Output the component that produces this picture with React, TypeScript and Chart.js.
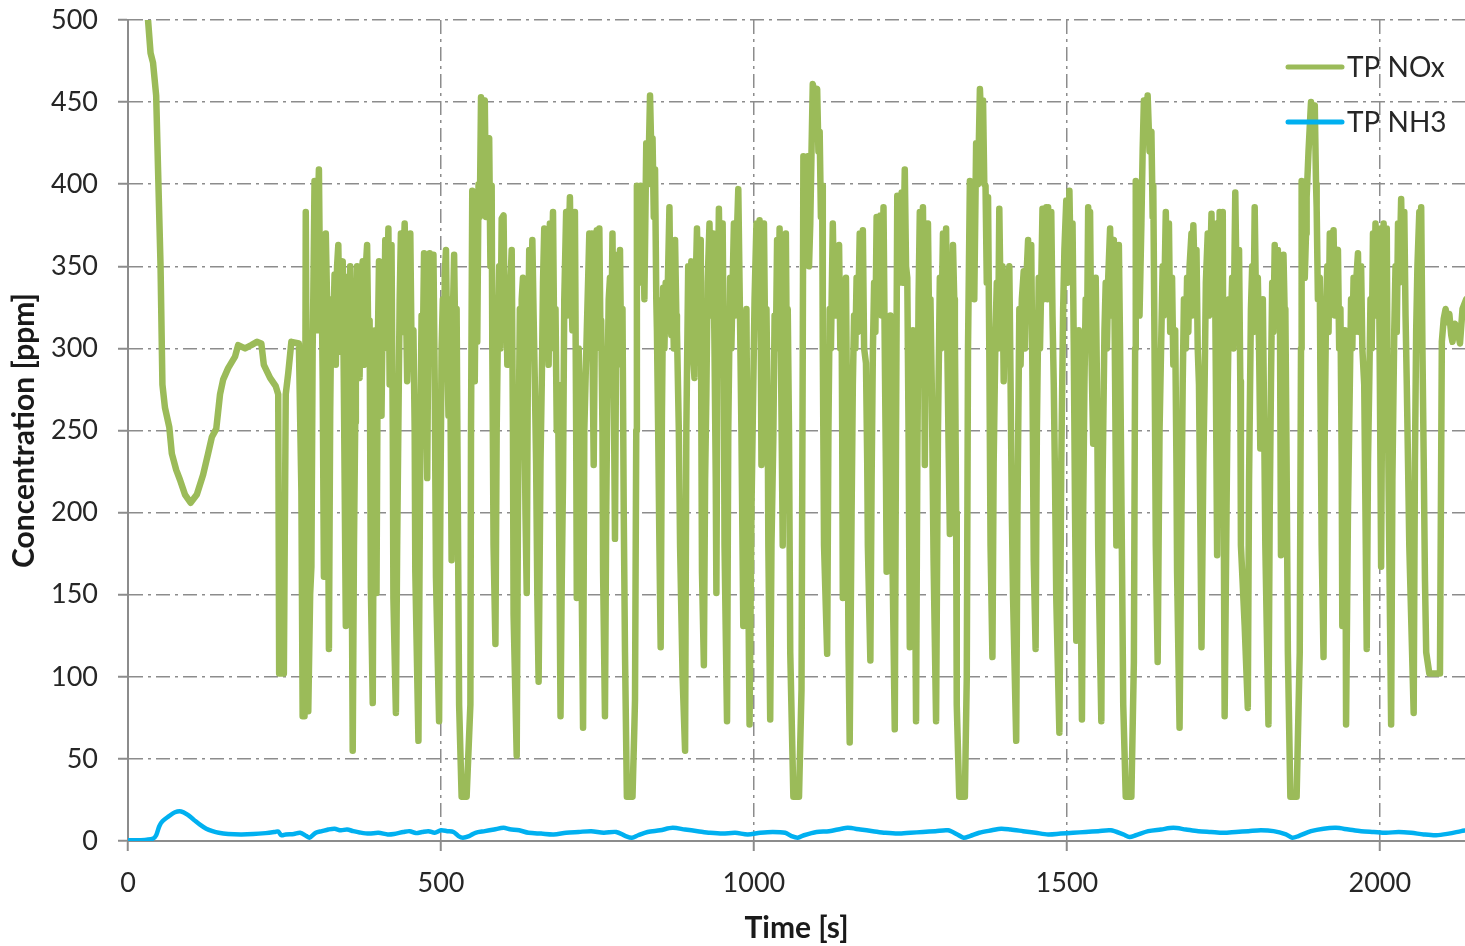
import React, { useEffect, useRef } from 'react';
import { Chart, registerables } from 'chart.js';

Chart.register(...registerables);

// ---------- data (time [s], concentration [ppm]) ----------
const seriesLabels = ['TP NOx', 'TP NH3'];
const xTickValues = [0, 500, 1000, 1500, 2000];
const yTickValues = [0, 50, 100, 150, 200, 250, 300, 350, 400, 450, 500];
const xMax = 2136;
const yMax = 500;

const noxA: [number, number][] = [
  [0, 640], [15, 580], [28, 520], [32, 500], [36, 480], [40, 474], [45, 454], [48, 409], [52, 350], [55, 278],
  [59, 264], [66, 252], [70, 236], [77, 226], [83, 220], [91, 211], [100, 206], [110, 211], [120, 223], [128, 236],
  [134, 246], [141, 251], [147, 272], [152, 281], [160, 288], [171, 295], [176, 302], [187, 300], [197, 302], [206, 304],
  [213, 303], [217, 290], [227, 282], [236, 277], [240, 272], [241.5, 102], [249, 102], [252, 272], [256, 285], [261, 304],
  [273, 303], [277, 213], [279, 76], [282, 76], [284, 383], [288, 79], [291, 150], [293, 167], [295, 300], [296, 330],
  [298, 402], [300, 350], [302, 311], [303, 380], [305, 409], [307, 330], [309, 353], [311, 280], [313, 161], [315, 300],
  [316, 370], [318, 330], [319, 250], [321, 117], [323, 260], [325, 330], [328, 311], [330, 345], [332, 290], [334, 350],
  [336, 363], [338, 310], [339, 298], [341, 340], [343, 353], [345, 270], [348, 131], [350, 300], [352, 344], [353, 300],
  [355, 350], [357, 200], [359, 55],
];

const noxB: [number, number][] = [
  [361, 180], [363, 255], [364, 320], [366, 350], [368, 300], [370, 282], [372, 340], [375, 353], [377, 290], [379, 311],
  [380, 350], [382, 363], [384, 300], [386, 317], [388, 154], [391, 84], [393, 250], [395, 311], [397, 151], [399, 300],
  [401, 353], [403, 290], [405, 259], [407, 330], [409, 300], [411, 366], [413, 320], [416, 373], [418, 278], [420, 340],
  [421, 363], [423, 250], [424, 148], [428, 78], [430, 180], [432, 255], [434, 330], [436, 370], [438, 310], [440, 350],
  [442, 376], [444, 330], [446, 280], [448, 308], [450, 360], [451, 370], [453, 300], [456, 311], [458, 250], [459, 164],
  [464, 61], [466, 180], [467, 246], [469, 320], [471, 300], [473, 358], [475, 300], [478, 221], [480, 320], [482, 358],
  [484, 310], [486, 340], [488, 357], [490, 280], [492, 161], [497, 73], [499, 200], [501, 300], [503, 330], [505, 290],
  [506, 345], [508, 360], [510, 300], [512, 259], [514, 330], [517, 171], [519, 320], [521, 357], [523, 300], [525, 324],
  [527, 200], [529, 83], [533, 27], [541, 27], [547, 83], [548, 250], [550, 396], [552, 330], [554, 280], [556, 373],
  [558, 304], [560, 400], [562, 380], [564, 453], [567, 440], [570, 451], [572, 380], [574, 409], [577, 428], [579, 350],
  [581, 399], [582, 300], [584, 180], [587, 120], [589, 250], [591, 311], [593, 350], [595, 300], [597, 379], [600, 381],
  [602, 310], [604, 343], [606, 290], [609, 324], [611, 340], [613, 360], [615, 250], [616, 138], [621, 52], [623, 200],
  [626, 324], [628, 290], [629, 330], [631, 343], [633, 280], [635, 200], [637, 151], [639, 300], [641, 360], [643, 310],
  [646, 366], [648, 320], [650, 278], [652, 230], [654, 148], [656, 97], [659, 230], [661, 278], [663, 340], [665, 373],
  [667, 310], [670, 330], [672, 290], [674, 376], [676, 330], [679, 383], [681, 300], [683, 324], [685, 250], [687, 278],
  [689, 180], [691, 76], [693, 160], [695, 220], [697, 330], [700, 383], [702, 320], [704, 360], [706, 392], [708, 340],
  [710, 311], [712, 350], [714, 383], [716, 250], [717, 148], [720, 300], [723, 250], [725, 150], [727, 69], [729, 250],
  [733, 311],
];

const noxC: [number, number][] = [
  [735, 340], [737, 370], [739, 320], [741, 370], [742, 300], [744, 229], [746, 320], [749, 372], [751, 330], [753, 373],
  [755, 300], [756, 317], [758, 250], [759, 164], [762, 76], [764, 200], [766, 278], [768, 330], [770, 343], [772, 300],
  [774, 370], [776, 280], [778, 184], [780, 320], [782, 357], [784, 310], [786, 360], [788, 290], [790, 324], [792, 200],
  [794, 115], [797, 27], [806, 27], [809, 70], [810, 86], [812, 250], [813, 399], [815, 350], [817, 380], [819, 399],
  [821, 340], [823, 373], [825, 330], [828, 425], [831, 400], [834, 454], [836, 420], [838, 428], [840, 380], [842, 409],
  [844, 330], [845, 311], [847, 250], [849, 180], [851, 118], [853, 260], [855, 337], [857, 300], [859, 340], [861, 311],
  [863, 350], [865, 386], [867, 320], [868, 308], [870, 340], [872, 300], [874, 366], [876, 320], [877, 311], [880, 250],
  [882, 180], [886, 100], [890, 55], [892, 250], [895, 350], [897, 310], [900, 353], [902, 300], [905, 282], [907, 340],
  [909, 373], [911, 320], [913, 340], [915, 366], [916, 250], [917, 164], [920, 107], [922, 220], [924, 272], [926, 340],
  [929, 376], [931, 320], [933, 350], [935, 370], [937, 300], [939, 220], [940, 151], [942, 320], [944, 385], [946, 330],
  [948, 350], [950, 376], [952, 280], [953, 180], [957, 73], [959, 250], [962, 343], [964, 300], [966, 340], [968, 376],
  [970, 320], [972, 360], [975, 397], [977, 340], [978, 311], [980, 250], [983, 131], [985, 280], [988, 324], [990, 200],
  [993, 71], [996, 200], [999, 278], [1001, 330], [1004, 376], [1006, 320], [1009, 378], [1011, 300], [1012, 229], [1014, 330],
  [1016, 376], [1018, 300], [1020, 324], [1022, 260], [1023, 180], [1026, 74], [1028, 180], [1031, 246], [1033, 320], [1035, 300],
  [1037, 366], [1039, 320], [1041, 373], [1043, 300], [1046, 180], [1048, 300], [1051, 370], [1052, 320], [1054, 324], [1056, 250],
  [1058, 115], [1063, 27], [1072, 27], [1076, 92], [1078, 300], [1079, 417], [1081, 380], [1083, 400], [1086, 417], [1088, 350],
  [1090, 376], [1092, 420], [1094, 461],
];

const noxD: [number, number][] = [
  [1097, 455], [1101, 458], [1103, 420], [1105, 432], [1107, 380], [1109, 399], [1110, 300], [1112, 180], [1117, 114], [1119, 250],
  [1121, 324], [1123, 300], [1126, 376], [1128, 330], [1131, 320], [1133, 350], [1136, 363], [1138, 300], [1140, 324], [1141, 250],
  [1142, 148], [1145, 280], [1147, 343], [1149, 250], [1151, 120], [1153, 60], [1156, 200], [1158, 278], [1160, 320], [1162, 300],
  [1164, 343], [1166, 310], [1169, 370], [1171, 320], [1174, 372], [1176, 300], [1179, 291], [1181, 230], [1182, 180], [1186, 110],
  [1188, 220], [1190, 298], [1192, 340], [1194, 310], [1196, 380], [1198, 330], [1200, 350], [1202, 381], [1204, 320], [1207, 386],
  [1209, 300], [1211, 220], [1212, 164], [1214, 250], [1216, 278], [1218, 320], [1219, 260], [1221, 180], [1225, 68], [1227, 250],
  [1229, 393], [1231, 340], [1233, 370], [1236, 395], [1238, 340], [1241, 409], [1243, 350], [1245, 343], [1247, 250], [1249, 118],
  [1251, 250], [1254, 311], [1256, 250], [1259, 73], [1261, 230], [1263, 330], [1265, 383], [1267, 330], [1270, 386], [1272, 300],
  [1273, 229], [1275, 330], [1278, 376], [1280, 310], [1282, 330], [1284, 280], [1287, 171], [1291, 73], [1294, 250], [1297, 343],
  [1299, 300], [1302, 370], [1304, 320], [1307, 373], [1309, 300], [1311, 240], [1313, 187], [1315, 300], [1318, 363], [1320, 330],
  [1321, 311], [1323, 200], [1324, 83], [1328, 27], [1337, 27], [1340, 99], [1342, 300], [1345, 402], [1347, 350], [1350, 376],
  [1352, 330], [1355, 425], [1358, 400], [1361, 458], [1364, 430], [1366, 451], [1368, 400], [1370, 399], [1372, 340], [1374, 392],
  [1376, 300], [1378, 180], [1381, 112], [1383, 230], [1386, 311], [1388, 340], [1390, 300], [1392, 385], [1394, 330], [1397, 350],
  [1399, 280], [1401, 330], [1403, 311], [1405, 340], [1408, 350], [1410, 280], [1412, 200], [1414, 148], [1419, 61], [1421, 200],
  [1424, 324], [1426, 290], [1428, 330], [1431, 347], [1433, 300], [1435, 340], [1438, 366], [1440, 320], [1443, 363], [1445, 280],
  [1447, 171], [1450, 117], [1452, 250], [1455, 343], [1457, 300], [1459, 340], [1461, 385], [1463, 330], [1465, 360], [1467, 386],
];

const noxE: [number, number][] = [
  [1469, 330], [1470, 386], [1472, 340], [1475, 383], [1477, 320], [1479, 278], [1481, 220], [1483, 148], [1488, 66], [1491, 230],
  [1494, 324], [1496, 360], [1499, 390], [1501, 340], [1504, 396], [1506, 350], [1509, 376], [1511, 300], [1513, 200], [1515, 122],
  [1517, 250], [1519, 311], [1521, 200], [1524, 74], [1526, 200], [1528, 278], [1530, 330], [1532, 300], [1534, 386], [1536, 330],
  [1537, 383], [1539, 300], [1542, 242], [1544, 320], [1546, 343], [1548, 280], [1550, 180], [1555, 73], [1557, 220], [1560, 311],
  [1562, 340], [1564, 300], [1566, 343], [1569, 373], [1571, 320], [1573, 350], [1575, 366], [1577, 280], [1579, 180], [1581, 300],
  [1583, 363], [1585, 300], [1587, 213], [1590, 83], [1594, 27], [1603, 27], [1607, 109], [1609, 300], [1610, 402], [1612, 340],
  [1614, 350], [1616, 320], [1619, 376], [1621, 420], [1623, 451], [1626, 430], [1629, 454], [1632, 420], [1635, 432], [1637, 380],
  [1638, 399], [1640, 300], [1642, 180], [1645, 109], [1648, 250], [1651, 311], [1653, 350], [1655, 320], [1658, 383], [1660, 330],
  [1663, 376], [1665, 310], [1668, 343], [1670, 290], [1673, 311], [1675, 230], [1676, 164], [1680, 69], [1683, 200], [1685, 278],
  [1687, 330], [1690, 300], [1692, 343], [1694, 310], [1696, 350], [1699, 370], [1700, 320], [1702, 375], [1705, 330], [1707, 360],
  [1709, 300], [1711, 278], [1713, 200], [1715, 118], [1718, 230], [1720, 278], [1722, 340], [1725, 370], [1727, 320], [1729, 350],
  [1731, 382], [1733, 330], [1736, 376], [1738, 280], [1740, 174], [1742, 300], [1744, 383], [1746, 330], [1749, 383], [1750, 250],
  [1752, 76], [1755, 200], [1757, 278], [1759, 330], [1761, 300], [1764, 343], [1766, 300], [1769, 395], [1771, 340], [1773, 330],
  [1775, 360], [1777, 280], [1778, 180], [1784, 131], [1789, 81], [1791, 220], [1794, 324], [1796, 350], [1798, 310], [1800, 386],
  [1802, 330], [1805, 343], [1807, 300], [1809, 239], [1811, 300], [1813, 330], [1815, 260], [1817, 180], [1822, 71], [1824, 200],
  [1826, 278], [1828, 340], [1830, 310], [1832, 363], [1834, 330], [1837, 360],
];

const noxF: [number, number][] = [
  [1839, 320], [1840, 353], [1841, 260], [1842, 174], [1844, 300], [1846, 357], [1848, 320], [1849, 324], [1851, 230], [1853, 115],
  [1857, 27], [1867, 27], [1872, 115], [1874, 300], [1875, 402], [1877, 360], [1880, 343], [1882, 370], [1883, 392], [1886, 420],
  [1890, 450], [1893, 430], [1896, 448], [1898, 400], [1899, 386], [1901, 330], [1904, 343], [1905, 280], [1907, 180], [1910, 112],
  [1912, 250], [1914, 324], [1916, 350], [1918, 310], [1920, 370], [1922, 330], [1924, 350], [1926, 372], [1928, 320], [1930, 353],
  [1933, 360], [1935, 300], [1937, 324], [1939, 230], [1940, 131], [1942, 250], [1944, 311], [1945, 200], [1946, 71], [1949, 200],
  [1952, 278], [1954, 330], [1956, 300], [1958, 343], [1960, 310], [1962, 340], [1965, 358], [1967, 310], [1970, 350], [1972, 300],
  [1975, 278], [1977, 200], [1979, 117], [1981, 230], [1983, 278], [1985, 330], [1987, 300], [1989, 370], [1991, 330], [1993, 376],
  [1995, 320], [1998, 373], [2000, 280], [2002, 167], [2004, 300], [2006, 376], [2008, 330], [2011, 373], [2012, 300], [2014, 213],
  [2018, 71], [2020, 220], [2023, 311], [2025, 350], [2027, 310], [2029, 376], [2031, 340], [2034, 391], [2036, 350], [2039, 383],
  [2041, 320], [2043, 278], [2045, 230], [2047, 180], [2054, 78], [2056, 230], [2058, 311], [2060, 350], [2063, 383], [2065, 340],
  [2066, 386], [2068, 300], [2070, 233], [2072, 160], [2074, 115], [2079, 102], [2096, 102], [2099, 304], [2102, 318], [2105, 324],
  [2108, 316], [2111, 321], [2114, 308], [2116, 304], [2120, 315], [2124, 311], [2128, 303], [2132, 324], [2138, 330],
];

const nh3Points: [number, number][] = [
  [0, 0.5], [20, 0.5], [40, 1.5], [45, 3.5], [50, 9], [55, 12], [65, 15], [75, 17.5], [85, 18], [95, 16],
  [105, 13], [115, 10], [125, 7.5], [135, 6], [145, 5], [160, 4.3], [180, 4], [200, 4.2], [220, 4.8], [235, 5.5],
  [240, 5.8], [245, 3.5], [252, 4], [265, 4.3], [275, 5], [285, 3], [290, 2], [300, 5], [310, 6], [320, 7],
  [330, 7.5], [340, 6.5], [350, 7], [360, 6], [370, 5.2], [385, 4.5], [400, 5], [415, 4], [425, 4.3], [440, 5.5],
  [450, 6], [460, 4.8], [470, 5.5], [480, 6], [490, 5], [500, 6.5], [510, 6], [520, 5.5], [528, 3], [535, 2],
  [545, 3], [555, 5], [570, 6], [585, 7], [600, 8], [610, 7.2], [625, 6.5], [640, 5], [660, 4.5], [680, 4],
  [700, 5], [720, 5.5], [740, 6], [760, 5], [780, 5.5], [795, 3], [805, 2], [815, 3.5], [830, 5.5], [850, 6.5],
  [870, 8], [890, 7], [910, 6], [930, 5], [950, 4.5], [970, 5], [990, 4], [1010, 5], [1030, 5.5], [1050, 5],
  [1060, 3], [1070, 2], [1080, 3.5], [1100, 5.5], [1120, 6], [1140, 7.5], [1150, 8], [1170, 7], [1190, 6], [1210, 5],
  [1230, 4.5], [1250, 5], [1270, 5.5], [1290, 6], [1310, 6.5], [1325, 4], [1335, 2], [1345, 3], [1360, 5], [1380, 6.5],
  [1395, 7.5], [1410, 7], [1430, 6], [1450, 5], [1470, 4], [1490, 4.5], [1510, 5], [1530, 5.5], [1550, 6], [1570, 6.5],
  [1590, 4], [1600, 2.5], [1610, 3.5], [1630, 6], [1650, 7], [1670, 8], [1690, 7], [1710, 6], [1730, 5.5], [1750, 5],
  [1770, 5.5], [1790, 6], [1810, 6.5], [1830, 6], [1850, 4], [1860, 2], [1870, 3], [1890, 6], [1910, 7.5], [1930, 8],
  [1950, 7], [1970, 6], [1990, 5.5], [2010, 5], [2030, 5.5], [2050, 5], [2070, 4], [2090, 3.5], [2110, 4.5], [2130, 6],
  [2138, 6.5],
];

const noxPoints = [...noxA, ...noxB, ...noxC, ...noxD, ...noxE, ...noxF];

// ---------- styles ----------
const NOX_COLOR = '#9BBB59';
const NH3_COLOR = '#00B0F0';
const GRID_COLOR = '#8c8c8c';
const TEXT_COLOR = '#262626';
const FONT = 'Lato';

const insideLegend = {
  id: 'insideLegend',
  afterDraw(chart: any) {
    const { ctx, chartArea } = chart;
    ctx.save();
    chart.data.datasets.forEach((ds: any, i: number) => {
      const y = chartArea.top + 47 + i * 55;
      const x0 = chartArea.right - 177;
      const x1 = chartArea.right - 123;
      ctx.strokeStyle = ds.borderColor;
      ctx.lineWidth = 5;
      ctx.lineCap = 'round';
      ctx.beginPath();
      ctx.moveTo(x0, y);
      ctx.lineTo(x1, y);
      ctx.stroke();
      ctx.fillStyle = TEXT_COLOR;
      ctx.font = `28px ${FONT}`;
      ctx.textAlign = 'left';
      ctx.textBaseline = 'middle';
      ctx.fillText(ds.label, x1 + 5, y + 1);
    });
    ctx.restore();
  },
};

export default function App() {
  const canvasRef = useRef<HTMLCanvasElement | null>(null);

  useEffect(() => {
    document.body.style.margin = '0';
    const canvas = canvasRef.current;
    if (!canvas) return;
    const chart = new Chart(canvas, {
      type: 'line',
      data: {
        datasets: [
          {
            label: seriesLabels[0],
            data: noxPoints.map(([x, y]) => ({ x, y })),
            borderColor: NOX_COLOR,
            borderWidth: 6.5,
            pointRadius: 0,
            tension: 0,
            borderJoinStyle: 'round',
            borderCapStyle: 'round',
          },
          {
            label: seriesLabels[1],
            data: nh3Points.map(([x, y]) => ({ x, y })),
            borderColor: NH3_COLOR,
            borderWidth: 4.5,
            pointRadius: 0,
            tension: 0.3,
            borderJoinStyle: 'round',
          },
        ],
      },
      options: {
        responsive: false,
        animation: false,
        devicePixelRatio: 1,
        layout: { padding: { top: 20, right: 0, bottom: 0, left: 0 } },
        plugins: { legend: { display: false }, tooltip: { enabled: false } },
        scales: {
          x: {
            type: 'linear',
            min: 0,
            max: xMax,
            afterBuildTicks: (s: any) => {
              s.ticks = xTickValues.map((v) => ({ value: v }));
            },
            ticks: {
              maxRotation: 0,
              autoSkip: false,
              color: TEXT_COLOR,
              font: { family: FONT, size: 27 },
              padding: 16,
              callback: (v: any) => String(v),
            },
            grid: { color: GRID_COLOR, lineWidth: 1.5, tickLength: 10, tickColor: GRID_COLOR, tickWidth: 2 },
            border: { display: true, color: GRID_COLOR, width: 2, dash: [14, 5, 3, 5] },
            title: {
              display: true,
              text: 'Time [s]',
              color: '#1a1a1a',
              font: { family: FONT, size: 30, weight: 'bold' },
              padding: { top: 0, bottom: 0 },
            },
            afterFit: (s: any) => {
              s.height = 105;
              s.paddingLeft = 0;
              s.paddingRight = 0;
            },
          },
          y: {
            min: 0,
            max: yMax,
            afterBuildTicks: (s: any) => {
              s.ticks = yTickValues.map((v) => ({ value: v }));
            },
            ticks: {
              autoSkip: false,
              color: TEXT_COLOR,
              font: { family: FONT, size: 27 },
              padding: 20,
              callback: (v: any) => String(v),
            },
            grid: { color: GRID_COLOR, lineWidth: 1.5, tickLength: 10, tickColor: GRID_COLOR, tickWidth: 2 },
            border: { display: true, color: GRID_COLOR, width: 2, dash: [14, 5, 3, 5] },
            title: {
              display: true,
              text: 'Concentration [ppm]',
              color: '#1a1a1a',
              font: { family: FONT, size: 30, weight: 'bold' },
              padding: { top: 6, bottom: 0 },
            },
            afterFit: (s: any) => {
              s.width = 128;
              s.paddingTop = 0;
              s.paddingBottom = 0;
            },
          },
        },
      },
      plugins: [insideLegend],
    } as any);
    return () => chart.destroy();
  }, []);

  return (
    <div style={{ position: 'absolute', left: 0, top: 0, width: 1465, height: 946, background: '#fff' }}>
      <canvas ref={canvasRef} width={1465} height={946} />
    </div>
  );
}
